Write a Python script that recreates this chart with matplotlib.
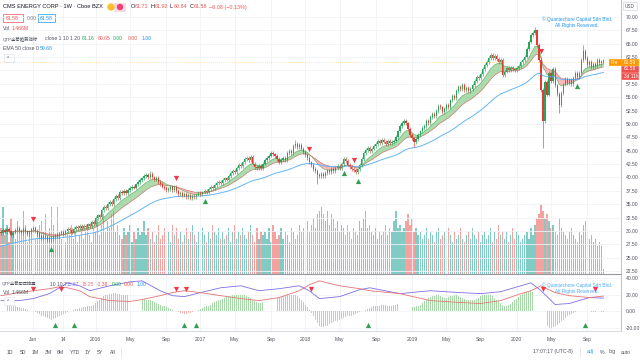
import numpy as np
import pandas as pd
import matplotlib
matplotlib.use('Agg')
import matplotlib.pyplot as plt
from matplotlib.patches import Rectangle, Ellipse

plt.rcParams['font.family'] = ['Liberation Sans', 'Noto Sans CJK SC', 'DejaVu Sans']

# weekly bars, CMS Energy, Cboe BZX (adj)
first_week = '2015-02-09'
first_open = 29.8
closes = [
    29.6, 30.1, 29.8, 30.4, 29.9, 29.3, 29.7, 30.2, 30.6, 30.0,
    29.6, 30.3, 29.9, 29.4, 29.8, 30.2, 30.5, 30.0, 29.4, 29.0,
    28.6, 29.1, 28.8, 28.3, 28.7, 28.4, 28.9, 29.3, 29.0, 29.5,
    29.8, 29.4, 30.0, 30.4, 30.1, 29.7, 30.3, 30.8, 30.5, 31.0,
    30.6, 31.0, 30.7, 31.2, 30.9, 31.6, 31.3, 32.4, 32.9, 32.6,
    33.9, 34.5, 34.2, 35.0, 35.4, 35.1, 35.9, 36.5, 36.2, 37.3,
    37.0, 37.5, 37.1, 37.6, 38.0, 38.3, 38.1, 38.7, 39.2, 39.5,
    39.8, 40.2, 40.5, 40.1, 40.6, 40.0, 39.6, 39.9, 39.2, 38.8,
    38.3, 38.0, 37.6, 37.9, 38.3, 37.7, 38.2, 37.4, 36.9, 37.1,
    36.6, 36.9, 36.4, 36.7, 36.2, 36.5, 36.3, 36.8, 37.1, 36.9,
    37.2, 37.5, 37.3, 37.9, 38.2, 38.0, 38.6, 38.9, 39.2, 39.0,
    39.5, 39.8, 39.6, 40.3, 40.8, 41.2, 41.0, 41.7, 42.3, 42.1,
    42.8, 43.4, 43.7, 43.2, 43.8, 42.6, 42.0, 41.7, 42.2, 41.8,
    42.6, 43.2, 43.6, 44.1, 44.6, 44.3, 44.0, 43.5, 42.9, 43.2,
    43.6, 43.3, 44.6, 45.0, 44.6, 45.9, 46.2, 45.7, 46.0, 45.4,
    44.8, 44.2, 43.6, 42.8, 42.3, 41.6, 41.2, 40.5, 40.2, 40.7,
    40.2, 40.8, 41.3, 41.0, 41.6, 41.2, 41.8, 42.1, 41.7, 42.5,
    43.4, 43.1, 42.4, 42.0, 41.6, 41.4, 41.0, 41.5, 42.3, 43.5,
    44.6, 45.1, 45.5, 45.0, 45.4, 45.9, 46.3, 46.8, 46.5, 47.0,
    46.7, 46.3, 46.8, 46.4, 46.6, 46.9, 47.6, 48.6, 49.6, 50.2,
    50.5, 50.1, 49.0, 48.0, 47.3, 46.6, 47.2, 48.0, 48.6, 49.3,
    49.6, 50.5, 50.1, 51.3, 51.9, 51.5, 52.4, 53.4, 53.1, 52.3,
    52.8, 53.5, 53.1, 54.4, 55.2, 54.8, 56.2, 56.9, 56.5, 57.3,
    56.4, 56.7, 56.2, 56.6, 57.3, 58.1, 58.8, 58.5, 59.3, 60.3,
    61.0, 61.6, 62.3, 62.9, 62.4, 62.7, 62.1, 61.6, 61.9, 59.2,
    59.8, 60.4, 60.1, 60.5, 60.2, 60.0, 60.4, 60.9, 61.5, 62.0,
    62.6, 64.0, 65.4, 66.6, 67.0, 67.5, 64.8, 62.0, 56.3, 50.5,
    57.8, 55.5, 59.6, 58.0, 60.3, 57.2, 55.6, 53.5, 55.8, 57.4,
    58.4, 57.6, 58.3, 57.5, 58.6, 59.5, 58.8, 59.6, 62.0, 63.6,
    62.4, 61.0, 61.6, 60.7, 61.2, 60.8, 61.9, 61.4, 61.71, 61.58,
]
wick_high = {74: 41.2, 146: 47.0, 265: 68.1, 289: 64.8, 298: 61.92}
wick_low = {25: 27.9, 157: 38.8, 205: 45.6, 269: 45.5, 277: 52.0, 298: 60.84}

# volume, millions
volumes = [
    13, 19, 11, 14, 9, 16, 12, 10, 15, 12,
    11, 18, 14, 9, 12, 13, 16, 10, 12, 14,
    15, 12, 17, 11, 13, 19, 14, 11, 19, 12,
    10, 13, 9, 12, 11, 14, 10, 12, 9, 11,
    13, 10, 12, 14, 11, 9, 13, 12, 16, 11,
    14, 17, 12, 15, 13, 17, 18, 12, 14, 11,
    10, 13, 11, 12, 14, 9, 12, 10, 13, 11,
    12, 15, 11, 13, 10, 12, 9, 11, 14, 10,
    11, 13, 10, 12, 9, 14, 11, 13, 10, 12,
    9, 11, 13, 10, 12, 14, 11, 9, 12, 10,
    13, 11, 9, 12, 10, 14, 12, 11, 13, 10,
    12, 10, 11, 13, 9, 12, 14, 10, 12, 11,
    13, 11, 10, 12, 14, 11, 9, 13, 10, 12,
    11, 12, 10, 13, 9, 14, 12, 10, 11, 13,
    10, 12, 11, 9, 13, 12, 10, 11, 14, 12,
    13, 11, 15, 12, 14, 16, 13, 17, 18, 19,
    17, 15, 18, 14, 17, 16, 13, 15, 12, 14,
    13, 11, 14, 12, 10, 13, 12, 11, 15, 13,
    16, 18, 13, 14, 12, 11, 13, 10, 12, 11,
    12, 14, 11, 13, 12, 15, 18, 13, 14, 12,
    13, 15, 17, 14, 16, 12, 13, 11, 12, 10,
    11, 13, 10, 12, 11, 9, 12, 13, 10, 11,
    12, 10, 13, 11, 9, 12, 10, 11, 13, 10,
    9, 11, 12, 10, 13, 11, 10, 12, 9, 11,
    12, 10, 11, 13, 9, 12, 10, 14, 11, 12,
    10, 12, 9, 11, 13, 10, 12, 11, 9, 10,
    11, 12, 10, 13, 11, 14, 16, 17, 20, 18,
    16, 17, 15, 13, 14, 12, 11, 16, 13, 12,
    11, 10, 12, 13, 11, 10, 9, 12, 11, 14,
    15, 12, 10, 11, 9, 10, 8, 9, 8, 1.466,
]

ema_fast_seed, ema_slow_seed, ema50_seed = 29.7, 29.9, 27.0

# QTP oscillator pane
hist_vals = [
    9, 10, 9, 8, 8, 7, 6, 6, 5, 5,
    4, 4, 3, 2, 1, 1, 0, -1, -2, -3,
    -5, -6, -7, -8, -9, -10, -9, -8, -7, -5,
    -4, -3, -2, -1, 0, 1, 2, 3, 3, 4,
    4, 5, 5, 6, 6, 7, 8, 10, 12, 14,
    16, 18, 19, 20, 21, 21, 22, 22, 21, 21,
    20, 20, 19, 19, 18, 18, 17, 17, 16, 16,
    15, 15, 14, 14, 13, 12, 11, 10, 9, 8,
    7, 6, 5, 4, 3, 2, 1, 0, -1, -2,
    -2, -3, -3, -2, -2, -1, 0, 1, 2, 3,
    4, 5, 6, 7, 8, 10, 11, 12, 13, 14,
    15, 16, 17, 18, 18, 19, 19, 20, 20, 20,
    19, 19, 18, 17, 16, 14, 12, 11, 10, 10,
    11, 12, 13, 14, 15, 15, 16, 16, 17, 17,
    18, 18, 19, 19, 20, 20, 19, 18, 16, 14,
    11, 8, 5, 2, -2, -6, -10, -14, -17, -19,
    -19, -18, -17, -15, -14, -13, -12, -11, -10, -9,
    -8, -7, -6, -6, -5, -4, -3, -2, -1, 0,
    1, 2, 3, 4, 5, 6, 6, 7, 7, 8,
    8, 8, 7, 7, 7, 8, 8, 9, 9, 9,
    9, 8, 7, 6, 5, 5, 6, 7, 8, 10,
    12, 14, 16, 17, 18, 18, 19, 19, 18, 17,
    16, 16, 17, 18, 18, 19, 19, 18, 17, 16,
    15, 14, 13, 13, 13, 14, 15, 16, 18, 19,
    20, 20, 20, 19, 18, 16, 14, 12, 10, 8,
    7, 7, 8, 9, 11, 13, 15, 17, 19, 21,
    22, 23, 24, 24, 23, 21, 16, 9, 1, -6,
    -12, -17, -20, -20, -19, -18, -16, -14, -12, -10,
    -8, -6, -4, -3, -2, -1, 0, 1, 1, 1,
    1, 0, 0, -1, -1, -1, 0, 0, -1, -1,
]
osc_idx = [0, 9, 16, 24, 29, 33, 39, 44, 54, 64, 70, 79, 85, 91, 99, 109, 119, 128, 138,
           148, 153, 158, 168, 178, 183, 198, 213, 228, 238, 248, 258, 263, 268, 275, 282, 292, 299]
osc_purple = [12.9, 12.9, 15.3, 21.2, 28.2, 34.1, 30.6, 24.7, 30.6, 35.3, 36.5, 24.7, 18.8,
              17.6, 22.4, 28.2, 30.6, 24.7, 27.1, 30.6, 24.7, 15.3, 17.6, 25.9, 28.2, 21.2,
              24.7, 22.4, 21.2, 23.5, 30.6, 34.1, 24.7, 8.2, 9.4, 16.5, 15.87]
osc_red = [18.8, 22.4, 24.7, 27.1, 29.4, 28.2, 24.7, 17.6, 12.9, 11.8, 14.1, 18.8, 22.4, 24.7,
           22.4, 18.8, 15.3, 12.9, 16.5, 24.7, 31.8, 36.5, 30.6, 27.1, 24.7, 21.2, 12.9, 10.6,
           9.4, 12.9, 21.2, 24.7, 30.6, 22.4, 18.8, 16.5, 18.25]

price_sell = [16, 87, 153, 175, 268]
price_buy = [25, 101, 170, 177, 286]
osc_sell = [16, 30, 87, 92, 154, 269, 295]
osc_buy = [27, 36, 91, 97, 182, 290]

time_labels = ['Jun', '14', '2016', 'May', 'Sep', '2017', 'May', 'Sep', '2018',
               'May', 'Sep', '2019', 'May', 'Sep', '2020', 'May', 'Sep']
time_dates = ['2015-06-01', '2015-09-14', '2016-01-04', '2016-05-02', '2016-09-05',
              '2017-01-02', '2017-05-01', '2017-09-04', '2018-01-01', '2018-04-30',
              '2018-09-03', '2019-01-07', '2019-05-06', '2019-09-02', '2020-01-06',
              '2020-05-04', '2020-09-07']

UP, DN = '#26a65b', '#e53935'
W, H = 640, 360


def px(x, y):
    return x / W, 1 - y / H


def ema(vals, span, seed):
    a = 2 / (span + 1)
    out, e = [], seed
    for v in vals:
        e = a * v + (1 - a) * e
        out.append(e)
    return np.array(out)


n = len(closes)
idx = np.arange(n)
dates = pd.date_range(first_week, periods=n, freq='W-MON')
c = np.array(closes)
o = np.r_[first_open, c[:-1]]
o[-1] = 61.71
hi = np.maximum(o, c) + 0.35
lo = np.minimum(o, c) - 0.35
for k, v in wick_high.items():
    hi[k] = v
for k, v in wick_low.items():
    lo[k] = v
up = c >= o

fast = ema(c, 10, ema_fast_seed)
slow = ema(c, 20, ema_slow_seed)
e50 = ema(c, 50, ema50_seed)

fig = plt.figure(figsize=(6.4, 3.6), dpi=100)
ax = fig.add_axes([0, 1 - 274 / H, 621 / W, 274 / H])
axv = ax.twinx()
ax2 = fig.add_axes([0, 1 - 331 / H, 621 / W, 56 / H])

xt = [dates.searchsorted(pd.Timestamp(d)) for d in time_dates]
xlim = (-0.5, 307.7)
ptick = np.arange(22.5, 70.01, 2.5)

# volume overlay
axv.set_zorder(0)
ax.set_zorder(1)
ax.patch.set_visible(False)
axv.bar(idx, volumes, width=0.6, color=np.where(up, '#80cbc4', '#f5a19f'), linewidth=0)
axv.set_ylim(0, 78)
axv.set_xlim(*xlim)
axv.axis('off')

for tx in xt:
    ax.axvline(tx, color='#f0f2f6', lw=0.6, zorder=0)
for p in ptick:
    ax.axhline(p, color='#f0f2f6', lw=0.6, zorder=0)

# ema band
ax.fill_between(idx, fast, slow, where=fast >= slow, color='#5cb85c', alpha=0.5, lw=0, interpolate=True)
ax.fill_between(idx, fast, slow, where=fast < slow, color='#ef5350', alpha=0.4, lw=0, interpolate=True)
ax.plot(idx, fast, color='#43a047', lw=0.5, alpha=0.7)
ax.plot(idx, slow, color='#c0504d', lw=0.5, alpha=0.7)
ax.plot(idx, e50, color='#64b5f6', lw=0.7)

# candles
col = np.where(up, UP, DN)
ax.vlines(idx, lo, hi, colors=col, lw=0.45)
ax.bar(idx, np.maximum(np.abs(c - o), 0.08), bottom=np.minimum(o, c), width=0.6, color=col, lw=0)

ax.axhline(61.59, color='#ff9800', lw=0.5, ls=(0, (1, 2)), alpha=0.6)

ax.scatter(price_sell, hi[price_sell] + 1.3, marker='v', s=14, color='#f23645', lw=0, zorder=5)
ax.scatter(price_buy, lo[price_buy] - 1.3, marker='^', s=14, color='#2e9e4f', lw=0, zorder=5)

ax.set_xlim(*xlim)
ax.set_ylim(21.94, 73.18)
ax.set_xticks([])
ax.yaxis.tick_right()
ax.set_yticks(ptick)
# 60.00 sits under the last-price tags
ax.set_yticklabels(['' if abs(p - 60) < 0.01 else '%.2f' % p for p in ptick])
ax.tick_params(axis='y', labelsize=3.6, labelcolor='#50535e', length=0, pad=3.5)
for s in ['top', 'left']:
    ax.spines[s].set_visible(False)
ax.spines['right'].set_color('#b2b5be')
ax.spines['right'].set_linewidth(0.6)
ax.spines['bottom'].set_color('#9598a1')
ax.spines['bottom'].set_linewidth(0.8)

# oscillator pane
for tx in xt:
    ax2.axvline(tx, color='#f0f2f6', lw=0.6, zorder=0)
for p in [-20, 0, 20, 40]:
    ax2.axhline(p, color='#f0f2f6', lw=0.6, zorder=0)
hv = np.array(hist_vals)
ax2.bar(idx, hv, width=0.45, color=np.where(hv >= 0, '#a9d8aa', '#f2b8b8'), lw=0)
ax2.plot(osc_idx, osc_purple, color='#7e6ee8', lw=0.6)
ax2.plot(osc_idx, osc_red, color='#e57373', lw=0.6)
ax2.scatter(osc_sell, [27] * len(osc_sell), marker='v', s=14, color='#f23645', lw=0, zorder=5)
ax2.scatter(osc_buy, [-16] * len(osc_buy), marker='^', s=14, color='#2e9e4f', lw=0, zorder=5)
ax2.set_xlim(*xlim)
ax2.set_ylim(-23.5, 43.5)
ax2.yaxis.tick_right()
ax2.set_yticks([-20, 0, 20, 40])
ax2.set_yticklabels(['-20.00', '0.00', '20.00', '40.00'])
ax2.tick_params(axis='y', labelsize=3.6, labelcolor='#50535e', length=0, pad=3.5)
ax2.set_xticks(xt)
ax2.set_xticklabels(time_labels)
ax2.tick_params(axis='x', labelsize=3.6, labelcolor='#50535e', length=0, pad=4)
for s in ['top', 'left']:
    ax2.spines[s].set_visible(False)
ax2.spines['right'].set_color('#b2b5be')
ax2.spines['right'].set_linewidth(0.6)
ax2.spines['bottom'].set_color('#d1d4dc')
ax2.spines['bottom'].set_linewidth(0.6)


def t(x, y, s, color='#131722', size=3.9, **kw):
    fig.text(*px(x, y), s, color=color, fontsize=size, va='center', **kw)


def box(x0, y0, x1, y1, fc, ec=None):
    fig.add_artist(Rectangle(px(x0, y1), (x1 - x0) / W, (y1 - y0) / H, transform=fig.transFigure,
                             facecolor=fc, edgecolor=ec or fc, lw=0.5))


# header
t(3, 7, 'CMS ENERGY CORP · 1W · Cboe BZX', size=4.1)
box(114, 3, 125, 11, '#f8d7e3')
fig.add_artist(Ellipse(px(111, 7), 6 / W, 6 / H, transform=fig.transFigure, color='#fbc02d'))
fig.add_artist(Ellipse(px(120, 7), 5 / W, 5 / H, transform=fig.transFigure, color='#ec407a'))
xs = 131
for lab, val in [('O', '61.71'), ('H', '61.92'), ('L', '60.84'), ('C', '61.58')]:
    t(xs, 7, lab)
    t(xs + 4, 7, val, color='#ef5350')
    xs += 19.5
t(xs, 7, '−0.08 (−0.13%)', color='#ef5350')

box(3, 14, 23, 22, 'white', '#ef5350')
t(5.5, 18, '61.58', color='#ef5350', size=3.7)
t(27, 18, '0.00', color='#787b86', size=3.7)
box(38, 14, 55, 22, 'white', '#2196f3')
t(40, 18, '61.58', color='#2196f3', size=3.7)

t(3, 29, 'Vol', color='#50535e', size=3.7)
t(12, 29, '1.466M', color='#ef5350', size=3.7)

t(3, 39, 'QTP全荀趋势指标', color='#50535e', size=3.2)
t(45, 39, 'close 1 10 1 20', color='#50535e', size=3.7)
for x0, s, cl in [(82, '61.16', '#26a65b'), (98, '60.65', '#ef5350'), (113, '0.00', '#26a65b'),
                  (128, '0.00', '#ef5350'), (142, '1.00', '#2196f3')]:
    t(x0, 39, s, color=cl, size=3.7)

t(3, 49, 'EMA 50 close 0', color='#50535e', size=3.7)
t(40, 49, '59.68', color='#2196f3', size=3.7)
box(4, 54, 14, 62, 'white', '#e0e3eb')
t(6.5, 58.5, '^', color='#50535e', size=3.5)

t(577, 19, '© Quantechore Capital Sdn Bhd.', color='#2196f3', size=3.4, ha='center')
t(577, 25, 'All Rights Reserved.', color='#2196f3', size=3.4, ha='center')

# oscillator legend
t(2, 284, 'QTP全荀题压抽量', color='#50535e', size=3.1)
t(50, 284, '10 10.7', color='#50535e', size=3.6)
for x0, s, cl in [(67, '15.87', '#7e6ee8'), (82, '18.25', '#e57373'), (97, '-1.38', '#ef5350'),
                  (112, '0.00', '#26a65b'), (124, '0.00', '#ef5350'), (137, '1.00', '#2196f3')]:
    t(x0, 284, s, color=cl, size=3.6)
t(3, 292, 'Vol', color='#50535e', size=3.7)
t(12, 292, '1.466M', color='#50535e', size=3.7)
box(4, 297, 14, 305, 'white', '#e0e3eb')
t(6.5, 301.5, '^', color='#50535e', size=3.5)
t(577, 285, '© Quantechore Capital Sdn Bhd.', color='#2196f3', size=3.4, ha='center', alpha=0.8)
t(577, 291, 'All Rights Reserved.', color='#2196f3', size=3.4, ha='center', alpha=0.8)

# right scale tags
box(623, 2, 637, 10, 'white', '#d1d4dc')
t(625, 6, 'USD', color='#50535e', size=3.3)
box(609, 59, 638, 65, '#ff9800')
t(611, 62, 'Pre', color='white', size=3.4)
t(624, 62, '61.59', color='white', size=3.4)
box(621, 66, 638, 72, '#ef5350')
t(624, 69, '61.58', color='white', size=3.4)
box(621, 73, 638, 79, '#ef5350')
t(623.5, 76, '3d 11h', color='white', size=3.4)

# bottom toolbar
x0 = 7
for s in ['1D', '5D', '1M', '3M', '6M', 'YTD', '1Y', '5Y', 'All']:
    t(x0, 352, s, color='#50535e', size=3.7)
    x0 += 12.5 if s != 'YTD' else 15
fig.add_artist(plt.Line2D([px(121, 0)[0]] * 2, [px(0, 347)[1], px(0, 357)[1]], color='#e0e3eb', lw=0.6))
t(533, 352, '17:07:17 (UTC-8)', color='#50535e', size=3.7)
fig.add_artist(plt.Line2D([px(580, 0)[0]] * 2, [px(0, 347)[1], px(0, 357)[1]], color='#e0e3eb', lw=0.6))
t(587, 352, 'adj', color='#2196f3', size=3.7)
t(600, 352, '%', color='#50535e', size=3.7)
t(609, 352, 'log', color='#50535e', size=3.7)
t(621, 352, 'auto', color='#50535e', size=3.7)

fig.savefig('out.png', dpi=100, facecolor='white')
